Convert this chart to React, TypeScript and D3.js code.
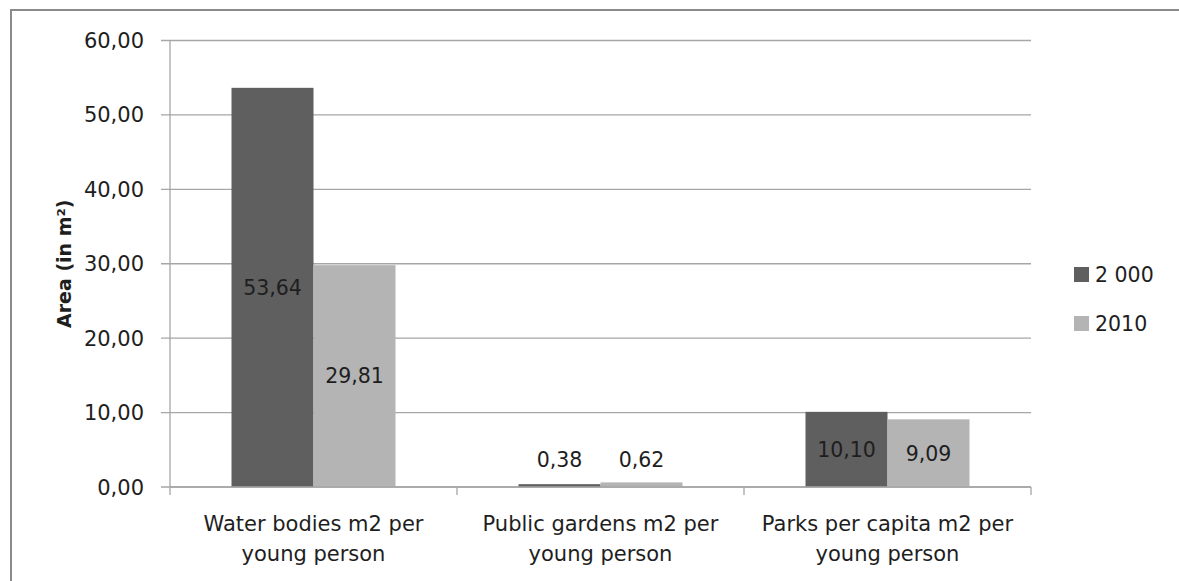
import React from "react";
import * as d3 from "d3";

// chart values
const categories = [
  "Water bodies m2 per young person",
  "Public gardens m2 per young person",
  "Parks per capita m2 per young person",
];
const categoryLines = [
  ["Water bodies m2 per", "young person"],
  ["Public gardens m2 per", "young person"],
  ["Parks per capita m2 per", "young person"],
];
const seriesNames = ["2 000", "2010"];
const values2000 = [53.64, 0.38, 10.1];
const values2010 = [29.81, 0.62, 9.09];
const yTicks = [0, 10, 20, 30, 40, 50, 60];

const seriesValues = [values2000, values2010];
const colors = ["#5f5f5f", "#b4b4b4"];
const font = "'DejaVu Sans', sans-serif";
const textColor = "#1e1e1e";
const gridColor = "#a6a6a6";

const fmt = (v: number) => d3.format(".2f")(v).replace(".", ",");

export default function App() {
  const width = 1179;
  const height = 581;
  const plot = { left: 170, right: 1031, top: 40.5, bottom: 487 };

  const y = d3.scaleLinear().domain([0, 60]).range([plot.bottom, plot.top]);
  const x0 = d3
    .scaleBand<string>()
    .domain(categories)
    .range([plot.left, plot.right])
    .padding(0);
  const x1 = d3
    .scaleBand<string>()
    .domain(seriesNames)
    .range([0, x0.bandwidth()])
    .paddingInner(0)
    .paddingOuter(0.75);

  const boundaries = [...categories.map(c => x0(c) as number), plot.right];

  return (
    <svg
      width={width}
      height={height}
      style={{ position: "absolute", left: 0, top: 0, background: "#fff" }}
    >
      {/* outer frame, only top and left edges visible */}
      <rect x={11} y={10} width={1300} height={700} fill="#fff" stroke="#8a8a8a" strokeWidth={2} />

      {/* gridlines + y tick labels */}
      {yTicks.map(t => (
        <g key={t}>
          <line
            x1={plot.left - 9}
            x2={plot.right}
            y1={y(t)}
            y2={y(t)}
            stroke={gridColor}
            strokeWidth={1.3}
          />
          <text
            x={144}
            y={y(t)}
            dy="0.36em"
            textAnchor="end"
            fontFamily={font}
            fontSize={21}
            fill={textColor}
          >
            {fmt(t)}
          </text>
        </g>
      ))}

      {/* y axis line */}
      <line x1={plot.left} x2={plot.left} y1={plot.top} y2={plot.bottom} stroke={gridColor} strokeWidth={1.3} />

      {/* bars */}
      {categories.map((c, ci) =>
        seriesNames.map((s, si) => {
          const v = seriesValues[si][ci];
          const bx = (x0(c) as number) + (x1(s) as number);
          const bw = x1.bandwidth();
          const top = y(v);
          const h = plot.bottom - top;
          const cx = bx + bw / 2;
          // small bars get their label above the baseline
          const ly = h > 30 ? top + h / 2 : y(0) - 27;
          return (
            <g key={c + s}>
              <rect x={bx} y={top} width={bw} height={h} fill={colors[si]} />
              <text
                x={cx}
                y={ly}
                dy="0.36em"
                textAnchor="middle"
                fontFamily={font}
                fontSize={20.5}
                fill={textColor}
              >
                {fmt(v)}
              </text>
            </g>
          );
        })
      )}

      {/* x axis baseline and ticks */}
      <line x1={plot.left} x2={plot.right} y1={plot.bottom} y2={plot.bottom} stroke={gridColor} strokeWidth={1.3} />
      {boundaries.map((bx, i) => (
        <line key={i} x1={bx} x2={bx} y1={plot.bottom} y2={plot.bottom + 8} stroke={gridColor} strokeWidth={1.3} />
      ))}

      {/* category labels */}
      {categories.map((c, ci) => (
        <text
          key={c}
          x={(x0(c) as number) + x0.bandwidth() / 2}
          textAnchor="middle"
          fontFamily={font}
          fontSize={21}
          fill={textColor}
        >
          {categoryLines[ci].map((line, li) => (
            <tspan key={li} x={(x0(c) as number) + x0.bandwidth() / 2} y={531 + li * 30}>
              {line}
            </tspan>
          ))}
        </text>
      ))}

      {/* y axis title */}
      <text
        transform={`translate(71, ${(plot.top + plot.bottom) / 2}) rotate(-90)`}
        textAnchor="middle"
        fontFamily={font}
        fontWeight="bold"
        fontSize={19}
        fill={textColor}
      >
        Area (in m²)
      </text>

      {/* legend */}
      {seriesNames.map((s, i) => (
        <g key={s} transform={`translate(1074, ${267 + i * 49})`}>
          <rect x={0} y={0} width={15} height={15} fill={colors[i]} />
          <text x={21} y={7.5} dy="0.36em" fontFamily={font} fontSize={20.5} fill={textColor}>
            {s}
          </text>
        </g>
      ))}
    </svg>
  );
}
